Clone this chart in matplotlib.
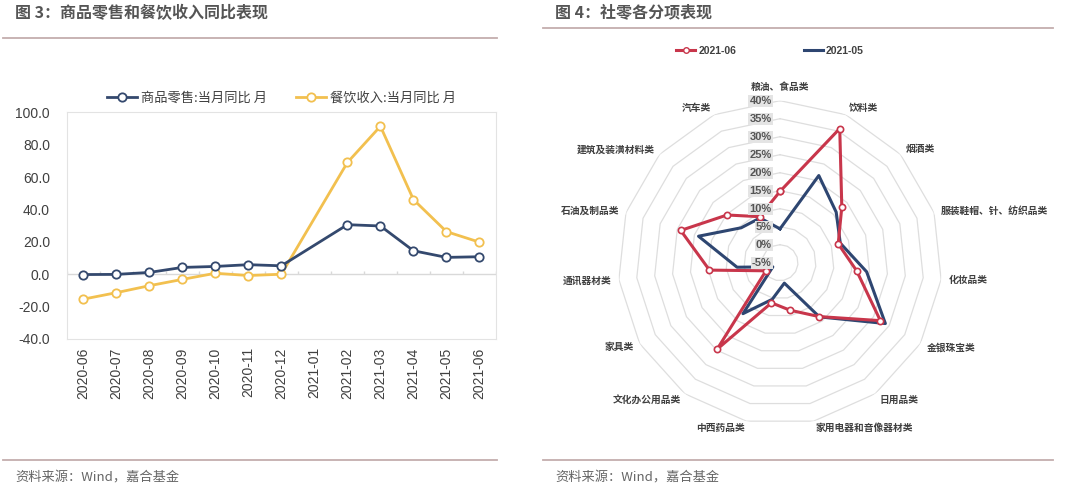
import numpy as np
import matplotlib
matplotlib.use("Agg")
import matplotlib.pyplot as plt
from matplotlib.lines import Line2D

plt.rcParams['font.family'] = ['Noto Sans CJK SC', 'DejaVu Sans']

# ---- figure 3 data: monthly yoy (%) ----
months = ['2020-06', '2020-07', '2020-08', '2020-09', '2020-10', '2020-11', '2020-12',
          '2021-01', '2021-02', '2021-03', '2021-04', '2021-05', '2021-06']
retail = [-0.2, -0.1, 1.1, 4.2, 4.8, 5.9, 5.2, np.nan, 30.6, 29.8, 14.5, 10.4, 10.8]
catering = [-15.4, -11.4, -7.1, -3.2, 0.6, -0.8, 0.0, np.nan, 69.0, 91.4, 46.1, 26.3, 19.8]

# ---- figure 4 data: sub-category yoy (%) ----
cats = ['粮油、食品类', '饮料类', '烟酒类', '服装鞋帽、针、纺织品类', '化妆品类', '金银珠宝类',
        '日用品类', '家用电器和音像器材类', '中西药品类', '文化办公用品类', '家具类',
        '通讯器材类', '石油及制品类', '建筑及装潢材料类', '汽车类']
jun21 = [14.8, 35.8, 18.1, 12.0, 16.4, 27.2, 13.5, 8.5, 6.4, 24.7, -0.5, 14.7, 24.0, 14.8, 9.0]
may21 = [4.4, 21.5, 16.0, 12.6, 19.2, 28.8, 13.6, 0.8, 5.4, 12.5, -2.7, 7.0, 18.8, 9.5, 8.6]
rings = [0, 5, 10, 15, 20, 25, 30, 35, 40]

W, H = 1080, 496
BLUE = '#34496E'
GOLD = '#F2C04F'
RED = '#C8364B'
NAVY = '#2E4671'
RULE = '#C4AEAE'
TXT = '#404040'
NUMFONT = ['Liberation Sans', 'DejaVu Sans']


def fx(px):
    return px / W


def fy(py):
    return 1 - py / H


fig = plt.figure(figsize=(W / 100, H / 100), dpi=100)

# titles, rules and footers
for x0, x1, ty, title in [(3, 497, 37.5, '图 3：商品零售和餐饮收入同比表现'),
                          (543, 1053, 28, '图 4：社零各分项表现')]:
    fig.text(fx(x0 + 12), fy(13), title, fontsize=11.5, fontweight='bold',
             color='#555555', ha='left', va='center')
    fig.add_artist(Line2D([fx(x0), fx(x1)], [fy(ty), fy(ty)], color=RULE, lw=1.3,
                          transform=fig.transFigure))
    fig.add_artist(Line2D([fx(x0), fx(x1)], [fy(460), fy(460)], color=RULE, lw=1.3,
                          transform=fig.transFigure))
    fig.text(fx(x0 + 12), fy(478), '资料来源：Wind，嘉合基金', fontsize=9.5,
             color='#666666', ha='left', va='center')

# ---- left: line chart ----
ax = fig.add_axes([fx(66.7), fy(339), fx(496) - fx(66.7), fy(112.3) - fy(339)])
x = np.arange(len(months))
r = np.array(retail)
c = np.array(catering)
ok_r = ~np.isnan(r)
ok_c = ~np.isnan(c)
ax.plot(x[ok_r], r[ok_r], color=BLUE, lw=2, marker='o', ms=6, mfc='white',
        mec=BLUE, mew=1.3, label='商品零售:当月同比 月', zorder=4)
ax.plot(x[ok_c], c[ok_c], color=GOLD, lw=2, marker='o', ms=6, mfc='white',
        mec=GOLD, mew=1.3, label='餐饮收入:当月同比 月', zorder=3)
ax.axhline(0, color='#D9D9D9', lw=1, zorder=1)
ax.vlines(np.arange(-0.5, len(months)), 0, 2.2, color='#D9D9D9', lw=1, zorder=1)
ax.set_xlim(-0.5, len(months) - 0.5)
ax.set_ylim(-40, 100)
ax.set_yticks(np.arange(-40, 101, 20))
ax.set_yticklabels([f'{v:.1f}' for v in np.arange(-40, 101, 20)])
ax.set_xticks(x)
ax.set_xticklabels(months, rotation=90)
for lab in ax.get_xticklabels() + ax.get_yticklabels():
    lab.set_fontfamily(NUMFONT)
ax.tick_params(length=0, labelsize=10, colors=TXT)
ax.tick_params(axis='y', pad=12)
ax.tick_params(axis='x', pad=6)
for s in ax.spines.values():
    s.set_color('#E3E3E3')
    s.set_linewidth(0.8)
ax.legend(loc='lower center', bbox_to_anchor=(0.5, 1.0), ncol=2, frameon=False,
          fontsize=9.5, handlelength=2.3, columnspacing=2.2, handletextpad=0.3,
          borderaxespad=0.2, labelcolor=TXT)

# ---- right: radar chart ----
cx, cy, rad = 780, 262.7, 162
pa = fig.add_axes([fx(cx - rad), fy(cy + rad), fx(2 * rad), fy(0) - fy(2 * rad)],
                  projection='polar')
pa.set_theta_zero_location('N')
pa.set_theta_direction(-1)
theta = np.deg2rad(np.arange(len(cats)) * 360 / len(cats))
tc = np.append(theta, theta[0])
for rv in rings:
    pa.plot(tc, [rv] * len(tc), color='#DEDEDE', lw=0.9, zorder=1)
j = np.append(jun21, jun21[0])
m = np.append(may21, may21[0])
pa.plot(tc, m, color=NAVY, lw=2.2, zorder=3, label='2021-05')
pa.plot(tc, j, color=RED, lw=2.2, marker='o', ms=4.5, mfc='white', mec=RED,
        mew=1.2, zorder=4, label='2021-06')
pa.set_ylim(-5, 40)
pa.grid(False)
pa.set_xticks([])
pa.set_yticks([])
pa.spines['polar'].set_visible(False)
pa.patch.set_alpha(0)

for rv in [-5] + rings:
    pa.annotate(f'{rv}%', xy=(0, rv), xytext=(-6, 0), textcoords='offset points',
                ha='right', va='center', fontsize=8, fontweight='bold', color='#555555',
                family=NUMFONT,
                bbox=dict(boxstyle='square,pad=0.1', fc='#E4E4E4', ec='none'), zorder=5)

for t, name in zip(theta, cats):
    s, co = np.sin(t), np.cos(t)
    ha = 'left' if s > 0.1 else ('right' if s < -0.1 else 'center')
    va = 'bottom' if co > 0.95 else 'center'
    pa.text(t, 42.5 if co > 0.95 else 42, name, ha=ha, va=va, fontsize=7,
            color=TXT, fontweight='bold')

handles = [Line2D([], [], color=RED, lw=2.2, marker='o', ms=4, mfc='white', mec=RED),
           Line2D([], [], color=NAVY, lw=2.2)]
fig.legend(handles, ['2021-06', '2021-05'], loc='center', bbox_to_anchor=(fx(770), fy(51)),
           ncol=2, frameon=False, prop={'weight': 'bold', 'size': 7.5, 'family': NUMFONT},
           handlelength=1.8, handletextpad=0.3, columnspacing=6.5, labelcolor=TXT)

fig.savefig('out.png', dpi=100)
